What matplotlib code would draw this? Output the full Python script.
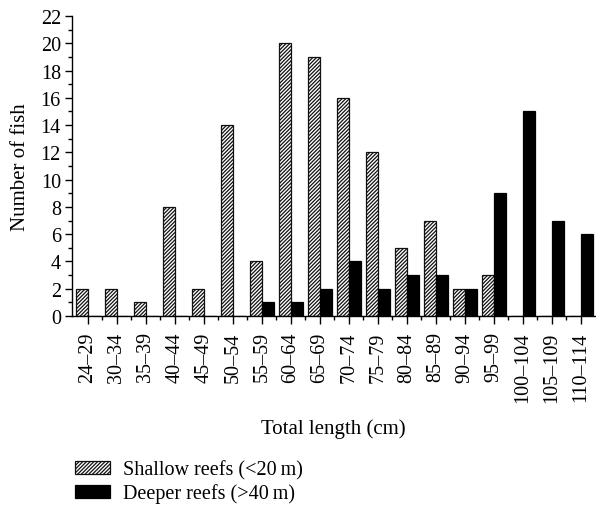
import matplotlib
matplotlib.use("Agg")
import matplotlib.pyplot as plt
import numpy as np
from matplotlib.ticker import MultipleLocator, FixedLocator

plt.rcParams['font.family'] = ['Liberation Serif', 'DejaVu Serif']
plt.rcParams['hatch.linewidth'] = 0.9

size_classes = ["24\u201329", "30\u201334", "35\u201339", "40\u201344", "45\u201349",
                "50\u201354", "55\u201359", "60\u201364", "65\u201369", "70\u201374",
                "75\u201379", "80\u201384", "85\u201389", "90\u201394", "95\u201399",
                "100\u2013104", "105\u2013109", "110\u2013114"]
shallow = [2, 2, 1, 8, 2, 14, 4, 20, 19, 16, 12, 5, 7, 2, 3, 0, 0, 0]
deeper = [0, 0, 0, 0, 0, 0, 1, 1, 2, 4, 2, 3, 3, 2, 9, 15, 7, 6]

fig = plt.figure(figsize=(5.96, 5.06), dpi=100)
ax = fig.add_axes([0.1208, 0.3735, 0.877, 0.5929])

x = np.arange(len(size_classes))
w = 0.42
ax.bar(x - w / 2, shallow, w, facecolor='white', edgecolor='#111111',
       linewidth=0.9, hatch='/////////', label='Shallow reefs (<20\u2009m)')
ax.bar(x + w / 2, deeper, w, facecolor='black', edgecolor='black',
       linewidth=0.9, label='Deeper reefs (>40\u2009m)')

ax.set_xlim(-0.55, 17.48)
ax.set_ylim(0, 22)
ax.spines['top'].set_visible(False)
ax.spines['right'].set_visible(False)
for s in ('left', 'bottom'):
    ax.spines[s].set_linewidth(1.0)

ax.yaxis.set_major_locator(MultipleLocator(2))
ax.yaxis.set_minor_locator(MultipleLocator(1))
ax.set_xticks(x)
ax.set_xticklabels(size_classes, rotation=90)
ax.xaxis.set_minor_locator(FixedLocator(x[:-1] + 0.5))
ax.tick_params(axis='both', which='major', direction='out', length=5, width=1,
               labelsize=14.5, color='black')
ax.tick_params(axis='both', which='minor', direction='out', length=3, width=1)
ax.tick_params(axis='x', which='major', length=6, pad=5)
ax.tick_params(axis='y', which='major', pad=3)

ax.set_ylabel('Number of fish', fontsize=15, labelpad=8)
ax.set_xlabel('Total length (cm)', fontsize=15, labelpad=12)

fig.legend(loc='upper left', bbox_to_anchor=(0.126, 0.089),
           bbox_transform=fig.transFigure, frameon=False, fontsize=14.5,
           borderpad=0, borderaxespad=0, handlelength=1.75, handleheight=0.65,
           handletextpad=0.65, labelspacing=0.2)

fig.savefig('out.png', dpi=100)
